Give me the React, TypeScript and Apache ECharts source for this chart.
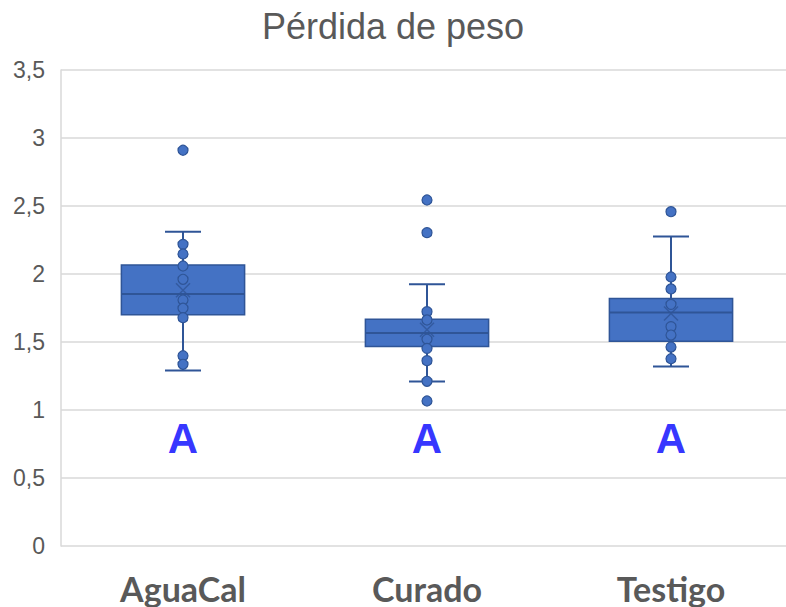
import React, { useEffect, useRef } from "react";
import * as echarts from "echarts";

const categories = ["AguaCal", "Curado", "Testigo"];
const boxMin = [1.29, 1.21, 1.32];
const boxQ1 = [1.7, 1.466, 1.505];
const boxMedian = [1.853, 1.566, 1.716];
const boxQ3 = [2.066, 1.667, 1.82];
const boxMax = [2.31, 1.924, 2.275];
const means = [1.88, 1.59, 1.71];
const pointsAguaCal = [2.91, 2.218, 2.147, 2.059, 1.961, 1.809, 1.748, 1.679, 1.399, 1.336];
const pointsCurado = [2.544, 2.304, 1.723, 1.662, 1.52, 1.453, 1.363, 1.211, 1.066];
const pointsTestigo = [2.458, 1.978, 1.89, 1.777, 1.613, 1.551, 1.463, 1.377];
const groupLetters = ["A", "A", "A"];
const yTicks = [0, 0.5, 1, 1.5, 2, 2.5, 3, 3.5];

const FILL = "#4472C4";
const EDGE = "#2F5597";
const LETTER_LEVEL = 0.79;

export default function App() {
  const ref = useRef<HTMLDivElement>(null);
  useEffect(() => {
    if (!ref.current) return;
    const chart = echarts.init(ref.current, null, { renderer: "svg" });
    const allPoints = [pointsAguaCal, pointsCurado, pointsTestigo];
    const scatterData: number[][] = [];
    allPoints.forEach((arr, i) => arr.forEach((v) => scatterData.push([i, v])));
    const boxData = categories.map((_, i) => [i, boxMin[i], boxQ1[i], boxMedian[i], boxQ3[i], boxMax[i]]);

    chart.setOption({
      animation: false,
      backgroundColor: "#ffffff",
      title: {
        text: "Pérdida de peso",
        left: 388,
        textAlign: "center",
        top: 3,
        textStyle: { fontFamily: "Liberation Sans", fontSize: 36, fontWeight: "normal", color: "#595959" },
      },
      grid: { left: 61, right: 0, top: 70, bottom: 61, containLabel: false },
      xAxis: {
        type: "category",
        data: categories,
        boundaryGap: true,
        axisLine: { show: false },
        axisTick: { show: false },
        axisLabel: {
          margin: 25,
          fontFamily: "Lato",
          fontWeight: "bold",
          fontSize: 34,
          color: "#595959",
        },
      },
      yAxis: {
        type: "value",
        min: 0,
        max: 3.5,
        interval: 0.5,
        axisLine: { show: true, lineStyle: { color: "#d9d9d9", width: 1.5 } },
        axisTick: { show: false },
        splitLine: { show: true, lineStyle: { color: "#d9d9d9", width: 1.5 } },
        axisLabel: {
          margin: 16,
          fontFamily: "Liberation Sans",
          fontSize: 23,
          color: "#595959",
          formatter: (v: number) => {
            const t = yTicks.find((x) => Math.abs(x - v) < 1e-9);
            return String(t ?? v).replace(".", ",");
          },
        },
      },
      series: [
        {
          type: "custom",
          data: boxData,
          z: 2,
          renderItem: (params: any, api: any) => {
            const x = api.value(0);
            const pMin = api.coord([x, api.value(1)]);
            const pQ1 = api.coord([x, api.value(2)]);
            const pMed = api.coord([x, api.value(3)]);
            const pQ3 = api.coord([x, api.value(4)]);
            const pMax = api.coord([x, api.value(5)]);
            const bw = api.size([1, 0])[0] * 0.505;
            const cap = 36;
            const cx = pMin[0];
            const ls = { stroke: EDGE, lineWidth: 2 };
            return {
              type: "group",
              children: [
                { type: "line", shape: { x1: cx, y1: pMin[1], x2: cx, y2: pQ1[1] }, style: ls },
                { type: "line", shape: { x1: cx, y1: pQ3[1], x2: cx, y2: pMax[1] }, style: ls },
                { type: "line", shape: { x1: cx - cap / 2, y1: pMin[1], x2: cx + cap / 2, y2: pMin[1] }, style: ls },
                { type: "line", shape: { x1: cx - cap / 2, y1: pMax[1], x2: cx + cap / 2, y2: pMax[1] }, style: ls },
                {
                  type: "rect",
                  shape: { x: cx - bw / 2, y: pQ3[1], width: bw, height: pQ1[1] - pQ3[1] },
                  style: { fill: FILL, stroke: EDGE, lineWidth: 1.5 },
                },
                { type: "line", shape: { x1: cx - bw / 2, y1: pMed[1], x2: cx + bw / 2, y2: pMed[1] }, style: ls },
              ],
            };
          },
        },
        {
          type: "scatter",
          data: scatterData,
          z: 3,
          symbol: "circle",
          symbolSize: 10,
          itemStyle: { color: FILL, borderColor: EDGE, borderWidth: 1.2, opacity: 1 },
        },
        {
          type: "scatter",
          data: means.map((v, i) => [i, v]),
          z: 4,
          symbol: "path://M0,0L10,10M10,0L0,10",
          symbolSize: 14,
          itemStyle: { color: "rgba(0,0,0,0)", borderColor: EDGE, borderWidth: 1.5 },
        },
        {
          type: "scatter",
          data: groupLetters.map((_, i) => [i, LETTER_LEVEL]),
          z: 5,
          symbol: "circle",
          symbolSize: 0,
          silent: true,
          label: {
            show: true,
            position: "inside",
            formatter: (p: any) => groupLetters[p.dataIndex],
            fontFamily: "Liberation Sans",
            fontWeight: "bold",
            fontSize: 42,
            color: "#0000FF",
          },
        },
      ],
    });
    return () => chart.dispose();
  }, []);
  return (
    <div style={{ position: "absolute", left: 0, top: 0, width: 786, height: 607, overflow: "hidden" }}>
      <div ref={ref} style={{ position: "absolute", left: 0, top: 0, width: 793, height: 607 }} />
    </div>
  );
}
